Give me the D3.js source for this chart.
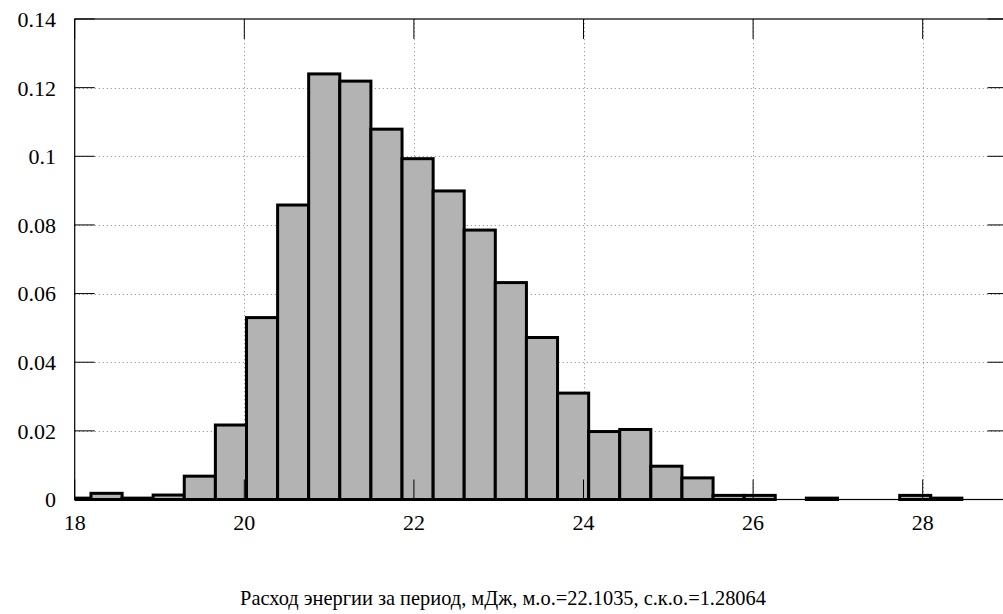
<!DOCTYPE html>
<html lang="ru">
<head>
<meta charset="UTF-8">
<title>Гистограмма расхода энергии</title>
<style>
  html, body { margin: 0; padding: 0; background: #fff; }
  svg { display: block; }
</style>
</head>
<body>
<div id="chart"></div>
<script src="https://cdn.jsdelivr.net/npm/d3@7"></script>
<script>
// границы интервалов гистограммы (мДж)
const binEdges = [17.825, 18.192, 18.559, 18.925, 19.292, 19.659, 20.026, 20.393,
  20.759, 21.126, 21.493, 21.860, 22.227, 22.593, 22.960, 23.327, 23.694, 24.061,
  24.427, 24.794, 25.161, 25.528, 25.895, 26.261, 26.628, 26.995, 27.362, 27.729,
  28.095, 28.462];
// относительные частоты по интервалам
const freqs = [0.0004, 0.0018, 0.0004, 0.0013, 0.0068, 0.0217, 0.0530, 0.0858,
  0.1240, 0.1219, 0.1079, 0.0993, 0.0899, 0.0785, 0.0632, 0.0472, 0.0310, 0.0198,
  0.0204, 0.0097, 0.0063, 0.0012, 0.0012, 0, 0.0004, 0, 0, 0.0012, 0.0004];
const xTicks = [18, 20, 22, 24, 26, 28];
const yTicks = [0, 0.02, 0.04, 0.06, 0.08, 0.1, 0.12, 0.14];
const xTitle = "Расход энергии за период, мДж, м.о.=22.1035, с.к.о.=1.28064";

const width = 1003, height = 614;
const mLeft = 74.7, mRight = 1007.5, mTop = 19, mBottom = 499.5;
const serif = "'Liberation Serif', 'Times New Roman', Times, 'DejaVu Serif', serif";

const svg = d3.select("#chart").append("svg")
  .attr("width", width)
  .attr("height", height)
  .attr("font-family", serif);

const x = d3.scaleLinear().domain([18, 29]).range([mLeft, mRight]);
const y = d3.scaleLinear().domain([0, 0.14]).range([mBottom, mTop]);

svg.append("clipPath").attr("id", "plot")
  .append("rect")
  .attr("x", mLeft).attr("y", mTop - 5)
  .attr("width", mRight - mLeft).attr("height", mBottom - mTop + 10);

// сетка пунктиром
const grid = svg.append("g")
  .attr("stroke", "#a0a0a0")
  .attr("stroke-width", 1)
  .attr("stroke-dasharray", "1.3,2.7");
grid.selectAll(".gy").data(yTicks.slice(1, -1)).enter().append("line")
  .attr("x1", mLeft).attr("x2", mRight)
  .attr("y1", d => Math.round(y(d)) + 0.5).attr("y2", d => Math.round(y(d)) + 0.5);
grid.selectAll(".gx").data(xTicks.slice(1)).enter().append("line")
  .attr("x1", d => Math.round(x(d)) + 0.5).attr("x2", d => Math.round(x(d)) + 0.5)
  .attr("y1", mTop).attr("y2", mBottom);

// столбцы
const bars = freqs.map((f, i) => ({ x0: binEdges[i], x1: binEdges[i + 1], f: f }))
  .filter(d => d.f > 0);
svg.append("g").attr("clip-path", "url(#plot)")
  .selectAll("rect").data(bars).enter().append("rect")
  .attr("x", d => x(d.x0))
  .attr("width", d => x(d.x1) - x(d.x0))
  .attr("y", d => y(d.f))
  .attr("height", d => y(0) - y(d.f))
  .attr("fill", "#b3b3b3")
  .attr("stroke", "#000")
  .attr("stroke-width", 3);

// рамка
svg.append("rect")
  .attr("x", mLeft).attr("y", mTop)
  .attr("width", mRight - mLeft).attr("height", mBottom - mTop)
  .attr("fill", "none").attr("stroke", "#000").attr("stroke-width", 1.2);

// засечки внутрь
const tickLen = 20;
const ticks = svg.append("g").attr("stroke", "#000").attr("stroke-width", 1);
yTicks.forEach(v => {
  ticks.append("line").attr("x1", mLeft).attr("x2", mLeft + tickLen)
    .attr("y1", y(v)).attr("y2", y(v));
  ticks.append("line").attr("x1", mRight).attr("x2", mRight - tickLen)
    .attr("y1", y(v)).attr("y2", y(v));
});
xTicks.forEach(v => {
  ticks.append("line").attr("x1", x(v)).attr("x2", x(v))
    .attr("y1", mBottom).attr("y2", mBottom - tickLen);
  ticks.append("line").attr("x1", x(v)).attr("x2", x(v))
    .attr("y1", mTop).attr("y2", mTop + tickLen);
});

// подписи
svg.append("g").selectAll("text").data(yTicks).enter().append("text")
  .attr("x", 56).attr("y", d => y(d))
  .attr("dy", "0.36em")
  .attr("text-anchor", "end")
  .attr("font-size", 22)
  .text(d => d3.format("")(d));

svg.append("g").selectAll("text").data(xTicks).enter().append("text")
  .attr("x", d => x(d)).attr("y", 530)
  .attr("text-anchor", "middle")
  .attr("font-size", 22)
  .text(d => d);

svg.append("text")
  .attr("x", 503).attr("y", 605)
  .attr("text-anchor", "middle")
  .attr("font-size", 20.4)
  .text(xTitle);
</script>
</body>
</html>
